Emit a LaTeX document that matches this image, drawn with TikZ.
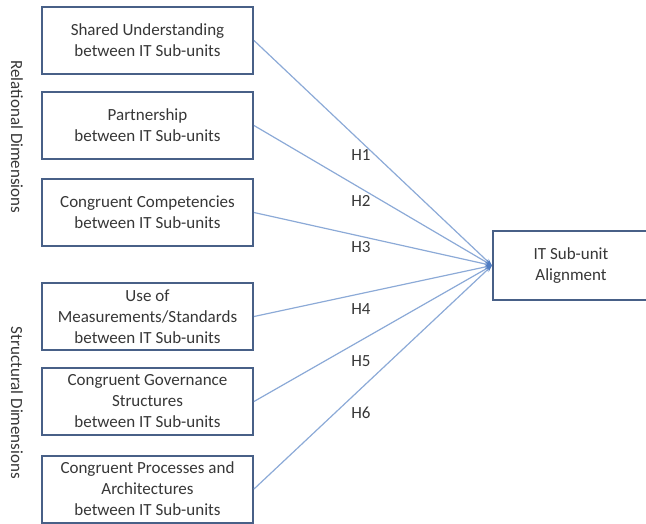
\documentclass[tikz,border=0pt]{standalone}
\usepackage{fontspec}
\setmainfont{Carlito}
\usetikzlibrary{arrows.meta}
\definecolor{boxedge}{RGB}{72,96,135}
\definecolor{linkblue}{RGB}{140,170,215}
\definecolor{tipblue}{RGB}{80,125,195}
\definecolor{labelgray}{RGB}{55,55,55}
\begin{document}
\begin{tikzpicture}[x=1pt,y=-1pt,
  factor/.style={draw=boxedge, line width=2pt, fill=white, minimum width=211pt,
    minimum height=67pt, align=center, text=labelgray, inner sep=2pt,
    font=\fontsize{17}{21}\selectfont},
  link/.style={draw=linkblue, line width=1.2pt,
    -{Stealth[length=7pt,width=5pt,color=tipblue]}},
  hyp/.style={text=labelgray, font=\fontsize{17}{19}\selectfont},
  dimlabel/.style={text=labelgray, rotate=-90, font=\fontsize{17}{19}\selectfont}]
\useasboundingbox (0,0) rectangle (646,523);
\clip (0,0) rectangle (646,523);

% independent constructs
\node[factor] (f1) at (147.5,40.5) {Shared Understanding\\between IT Sub-units};
\node[factor] (f2) at (147.5,125.5) {Partnership\\between IT Sub-units};
\node[factor] (f3) at (147.5,212.5) {Congruent Competencies\\between IT Sub-units};
\node[factor] (f4) at (147.5,316.5) {Use of\\Measurements/Standards\\between IT Sub-units};
\node[factor] (f5) at (147.5,401.5) {Congruent Governance\\Structures\\between IT Sub-units};
\node[factor] (f6) at (147.5,489) {Congruent Processes and\\Architectures\\between IT Sub-units};

% dependent construct
\node[factor, minimum width=156pt, minimum height=69pt] (al) at (571,265.5) {IT Sub-unit\\Alignment};

% group labels
\node[dimlabel] (rel) at (17,137) {Relational Dimensions};
\node[dimlabel] (str) at (17,403) {Structural Dimensions};

% hypothesised paths
\draw[link] (f1.east) -- (al.west);
\draw[link] (f2.east) -- (al.west);
\draw[link] (f3.east) -- (al.west);
\draw[link] (f4.east) -- (al.west);
\draw[link] (f5.east) -- (al.west);
\draw[link] (f6.east) -- (al.west);

\node[hyp] (h1) at (361,155) {H1};
\node[hyp] (h2) at (361,201) {H2};
\node[hyp] (h3) at (361,247) {H3};
\node[hyp] (h4) at (361,309) {H4};
\node[hyp] (h5) at (361,361) {H5};
\node[hyp] (h6) at (361,413) {H6};
\end{tikzpicture}
\end{document}
